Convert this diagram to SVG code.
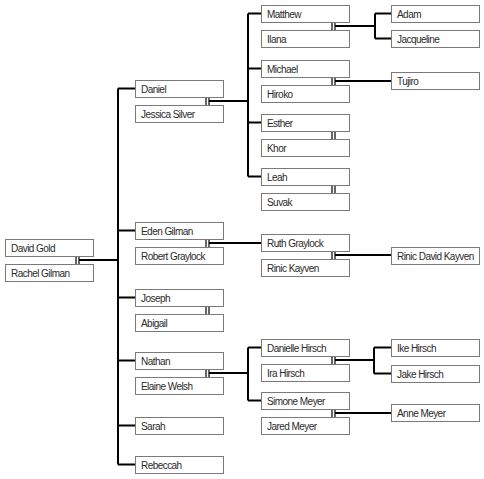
<svg xmlns="http://www.w3.org/2000/svg" width="484" height="479" viewBox="0 0 484 479">
<style>
.box{fill:#fff;stroke:#7a7a7a;stroke-width:1}
.t{font-family:"Liberation Sans",Arial,sans-serif;font-size:10px;letter-spacing:-0.55px;fill:#2a2a2a}
.c{fill:none;stroke:#000;stroke-width:2}
.b{stroke:#000;stroke-width:1.2}
</style>
<rect width="484" height="479" fill="#fff"/>
<defs>
<g id="bars"><line class="b" x1="0" y1="0" x2="0" y2="8"/><line class="b" x1="3" y1="0" x2="3" y2="8"/></g>
</defs>
<g id="connectors">
<path class="c" d="M79,260H118M118,88.5V464.5M118,88.5H135M118,230.5H135M118,297.5H135M118,360.5H135M118,425.5H135M118,464.5H135"/>
<path class="c" d="M209,101H248M248,13.5V176.5M248,13.5H261M248,68.5H261M248,122.5H261M248,176.5H261"/>
<path class="c" d="M335,26H375M375,13.5V38.5M375,13.5H391M375,38.5H391"/>
<path class="c" d="M335,81H391"/>
<path class="c" d="M209,243H261"/>
<path class="c" d="M335,255H391"/>
<path class="c" d="M209,373H248M248,347.5V400.5M248,347.5H261M248,400.5H261"/>
<path class="c" d="M335,360H374M374,347.5V373.5M374,347.5H391M374,373.5H391"/>
<path class="c" d="M335,413H391"/>
<use href="#bars" x="76" y="256"/>
<use href="#bars" x="206" y="97"/>
<use href="#bars" x="206" y="239"/>
<use href="#bars" x="206" y="306"/>
<use href="#bars" x="206" y="369"/>
<use href="#bars" x="332" y="22"/>
<use href="#bars" x="332" y="77"/>
<use href="#bars" x="332" y="131"/>
<use href="#bars" x="332" y="185"/>
<use href="#bars" x="332" y="251"/>
<use href="#bars" x="332" y="356"/>
<use href="#bars" x="332" y="409"/>
</g>
<g id="n-david-gold"><rect class="box" x="5.5" y="239.5" width="88" height="17"/><text class="t" x="11" y="252">David Gold</text></g>
<g id="n-rachel-gilman"><rect class="box" x="5.5" y="264.5" width="88" height="17"/><text class="t" x="11" y="277">Rachel Gilman</text></g>
<g id="n-daniel"><rect class="box" x="135.5" y="80.5" width="88" height="17"/><text class="t" x="141" y="93">Daniel</text></g>
<g id="n-jessica-silver"><rect class="box" x="135.5" y="105.5" width="88" height="17"/><text class="t" x="141" y="118">Jessica Silver</text></g>
<g id="n-eden-gilman"><rect class="box" x="135.5" y="222.5" width="88" height="17"/><text class="t" x="141" y="235">Eden Gilman</text></g>
<g id="n-robert-graylock"><rect class="box" x="135.5" y="247.5" width="88" height="17"/><text class="t" x="141" y="260">Robert Graylock</text></g>
<g id="n-joseph"><rect class="box" x="135.5" y="289.5" width="88" height="17"/><text class="t" x="141" y="302">Joseph</text></g>
<g id="n-abigail"><rect class="box" x="135.5" y="314.5" width="88" height="17"/><text class="t" x="141" y="327">Abigail</text></g>
<g id="n-nathan"><rect class="box" x="135.5" y="352.5" width="88" height="17"/><text class="t" x="141" y="365">Nathan</text></g>
<g id="n-elaine-welsh"><rect class="box" x="135.5" y="377.5" width="88" height="17"/><text class="t" x="141" y="390">Elaine Welsh</text></g>
<g id="n-sarah"><rect class="box" x="135.5" y="417.5" width="88" height="17"/><text class="t" x="141" y="430">Sarah</text></g>
<g id="n-rebeccah"><rect class="box" x="135.5" y="456.5" width="88" height="17"/><text class="t" x="141" y="469">Rebeccah</text></g>
<g id="n-matthew"><rect class="box" x="261.5" y="5.5" width="88" height="17"/><text class="t" x="267" y="18">Matthew</text></g>
<g id="n-ilana"><rect class="box" x="261.5" y="30.5" width="88" height="17"/><text class="t" x="267" y="43">Ilana</text></g>
<g id="n-michael"><rect class="box" x="261.5" y="60.5" width="88" height="17"/><text class="t" x="267" y="73">Michael</text></g>
<g id="n-hiroko"><rect class="box" x="261.5" y="85.5" width="88" height="17"/><text class="t" x="267" y="98">Hiroko</text></g>
<g id="n-esther"><rect class="box" x="261.5" y="114.5" width="88" height="17"/><text class="t" x="267" y="127">Esther</text></g>
<g id="n-khor"><rect class="box" x="261.5" y="139.5" width="88" height="17"/><text class="t" x="267" y="152">Khor</text></g>
<g id="n-leah"><rect class="box" x="261.5" y="168.5" width="88" height="17"/><text class="t" x="267" y="181">Leah</text></g>
<g id="n-suvak"><rect class="box" x="261.5" y="193.5" width="88" height="17"/><text class="t" x="267" y="206">Suvak</text></g>
<g id="n-ruth-graylock"><rect class="box" x="261.5" y="234.5" width="88" height="17"/><text class="t" x="267" y="247">Ruth Graylock</text></g>
<g id="n-rinic-kayven"><rect class="box" x="261.5" y="259.5" width="88" height="17"/><text class="t" x="267" y="272">Rinic Kayven</text></g>
<g id="n-danielle-hirsch"><rect class="box" x="261.5" y="339.5" width="88" height="17"/><text class="t" x="267" y="352">Danielle Hirsch</text></g>
<g id="n-ira-hirsch"><rect class="box" x="261.5" y="364.5" width="88" height="17"/><text class="t" x="267" y="377">Ira Hirsch</text></g>
<g id="n-simone-meyer"><rect class="box" x="261.5" y="392.5" width="88" height="17"/><text class="t" x="267" y="405">Simone Meyer</text></g>
<g id="n-jared-meyer"><rect class="box" x="261.5" y="417.5" width="88" height="17"/><text class="t" x="267" y="430">Jared Meyer</text></g>
<g id="n-adam"><rect class="box" x="391.5" y="5.5" width="88" height="17"/><text class="t" x="397" y="18">Adam</text></g>
<g id="n-jacqueline"><rect class="box" x="391.5" y="30.5" width="88" height="17"/><text class="t" x="397" y="43">Jacqueline</text></g>
<g id="n-tujiro"><rect class="box" x="391.5" y="72.5" width="88" height="17"/><text class="t" x="397" y="85">Tujiro</text></g>
<g id="n-rinic-david-kayven"><rect class="box" x="391.5" y="247.5" width="88" height="17"/><text class="t" x="397" y="260">Rinic David Kayven</text></g>
<g id="n-ike-hirsch"><rect class="box" x="391.5" y="339.5" width="88" height="17"/><text class="t" x="397" y="352">Ike Hirsch</text></g>
<g id="n-jake-hirsch"><rect class="box" x="391.5" y="365.5" width="88" height="17"/><text class="t" x="397" y="378">Jake Hirsch</text></g>
<g id="n-anne-meyer"><rect class="box" x="391.5" y="404.5" width="88" height="17"/><text class="t" x="397" y="417">Anne Meyer</text></g>
</svg>
